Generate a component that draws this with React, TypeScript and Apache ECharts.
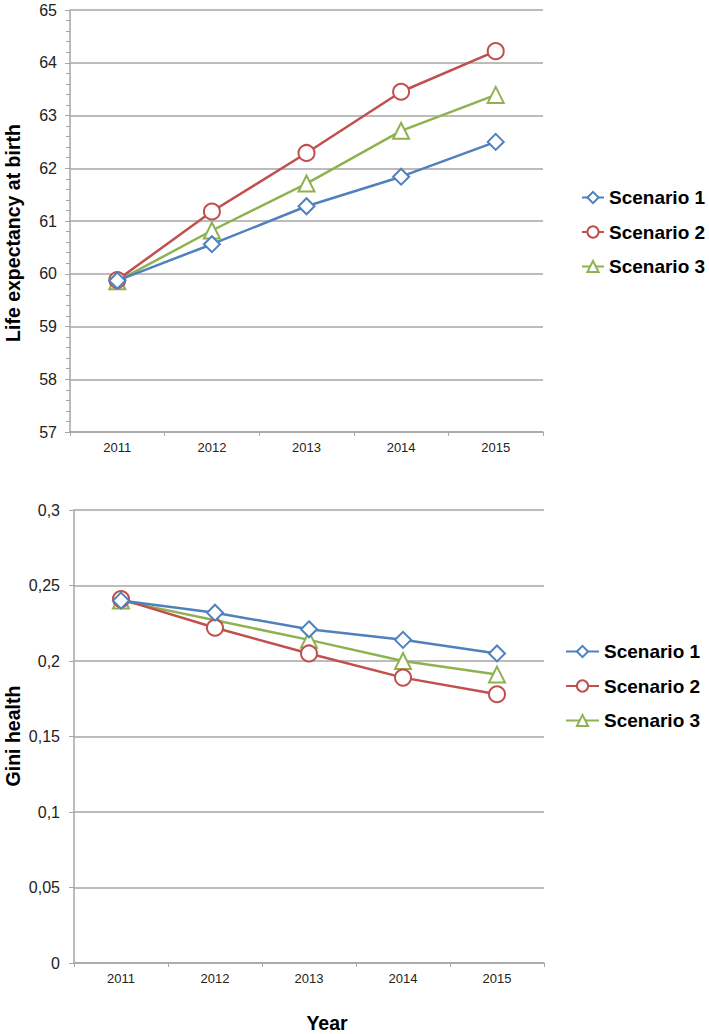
import React, { useEffect, useRef } from "react";
import * as echarts from "echarts";

const years = ["2011", "2012", "2013", "2014", "2015"];
const seriesNames = ["Scenario 1", "Scenario 2", "Scenario 3"];
const lifeS1 = [59.87, 60.56, 61.28, 61.84, 62.5];
const lifeS2 = [59.88, 61.18, 62.29, 63.45, 64.22];
const lifeS3 = [59.86, 60.82, 61.71, 62.71, 63.39];
const giniS1 = [0.240, 0.232, 0.221, 0.214, 0.205];
const giniS2 = [0.241, 0.222, 0.205, 0.189, 0.178];
const giniS3 = [0.240, 0.227, 0.214, 0.200, 0.191];
const titleTop = "Life expectancy at birth";
const titleBottom = "Gini health";
const titleX = "Year";

const colors = ["#4f81bd", "#c0504d", "#8fb250"];
const symbols = ["emptyDiamond", "emptyCircle", "emptyTriangle"];
const FONT = "Liberation Sans, Arial, sans-serif";

export default function App() {
  const ref = useRef<HTMLDivElement>(null);
  useEffect(() => {
    if (!ref.current) return;
    const chart = echarts.init(ref.current, undefined, { renderer: "svg" });
    const gridColor = "#a6a6a6";
    const mkSeries = (data: number[], i: number, idx: number) => ({
      name: seriesNames[i],
      type: "line",
      xAxisIndex: idx,
      yAxisIndex: idx,
      data,
      symbol: symbols[i],
      symbolSize: 16,
      lineStyle: { color: colors[i], width: 2.5 },
      itemStyle: { color: colors[i], borderColor: colors[i], borderWidth: 2 },
      z: 3 - i,
    });
    const legendBase = {
      orient: "vertical",
      data: seriesNames,
      padding: 0,
      itemHeight: 14,
      itemGap: 15.5,
      textStyle: { fontFamily: FONT, fontSize: 19, fontWeight: "bold", color: "#000" },
    };
    const titleStyle = { fontFamily: FONT, fontSize: 19.5, fontWeight: "bold", fill: "#000" };
    chart.setOption({
      animation: false,
      backgroundColor: "#fff",
      color: colors,
      legend: [
        { ...legendBase, left: 581, top: 188, itemWidth: 22 },
        { ...legendBase, left: 565, top: 642, itemWidth: 33 },
      ],
      graphic: [
        {
          type: "text",
          x: 13,
          y: 233,
          rotation: Math.PI / 2,
          style: { ...titleStyle, text: titleTop, align: "center", verticalAlign: "middle" },
        },
        {
          type: "text",
          x: 13,
          y: 736,
          rotation: Math.PI / 2,
          style: { ...titleStyle, text: titleBottom, align: "center", verticalAlign: "middle" },
        },
        {
          type: "text",
          x: 327,
          y: 1023,
          style: { ...titleStyle, text: titleX, align: "center", verticalAlign: "middle" },
        },
      ],
      grid: [
        { left: 70, top: 10, width: 473, height: 422 },
        { left: 74, top: 510, width: 470, height: 453 },
      ],
      xAxis: [0, 1].map((g) => ({
        type: "category",
        gridIndex: g,
        data: years,
        boundaryGap: true,
        axisLine: { lineStyle: { color: gridColor, width: 1.5 } },
        axisTick: { show: true, length: 4, lineStyle: { color: gridColor } },
        axisLabel: { fontFamily: FONT, fontSize: 13, color: "#222", margin: 9 },
      })),
      yAxis: [
        {
          type: "value",
          gridIndex: 0,
          min: 57,
          max: 65,
          interval: 1,
          axisLine: { show: true, lineStyle: { color: gridColor, width: 1.5 } },
          axisTick: { show: true, length: 5, lineStyle: { color: gridColor } },
          minorTick: { show: true, splitNumber: 5, length: 4, lineStyle: { color: gridColor } },
          splitLine: { lineStyle: { color: gridColor, width: 1.5 } },
          axisLabel: { fontFamily: FONT, fontSize: 16, color: "#222", margin: 13 },
        },
        {
          type: "value",
          gridIndex: 1,
          min: 0,
          max: 0.3,
          interval: 0.05,
          axisLine: { show: true, lineStyle: { color: gridColor, width: 1.5 } },
          axisTick: { show: true, length: 5, lineStyle: { color: gridColor } },
          splitLine: { lineStyle: { color: gridColor, width: 1.5 } },
          axisLabel: {
            fontFamily: FONT,
            fontSize: 16,
            color: "#222",
            margin: 14,
            formatter: (v: number) => String(+v.toFixed(2)).replace(".", ","),
          },
        },
      ],
      series: [
        mkSeries(lifeS1, 0, 0),
        mkSeries(lifeS2, 1, 0),
        mkSeries(lifeS3, 2, 0),
        mkSeries(giniS1, 0, 1),
        mkSeries(giniS2, 1, 1),
        mkSeries(giniS3, 2, 1),
      ],
    });
    return () => chart.dispose();
  }, []);
  return (
    <div
      ref={ref}
      style={{ position: "absolute", left: 0, top: 0, width: 709, height: 1034 }}
    />
  );
}
